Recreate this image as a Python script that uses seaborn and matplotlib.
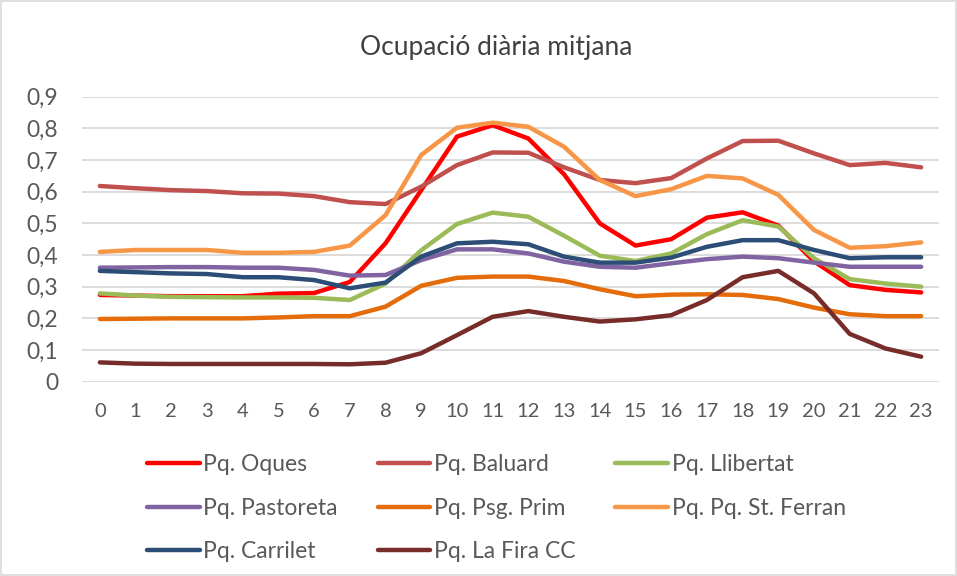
import pandas as pd
import numpy as np
import matplotlib
matplotlib.use("Agg")
import matplotlib.pyplot as plt
from matplotlib.ticker import FuncFormatter
from matplotlib.patches import Rectangle
import seaborn as sns

# ============================================================
# Data
# ============================================================

hours = list(range(24))

oques = [0.274, 0.272, 0.270, 0.270, 0.270, 0.278, 0.280, 0.315, 0.437, 0.605, 0.774, 0.810,
         0.768, 0.655, 0.500, 0.430, 0.450, 0.518, 0.535, 0.493, 0.380, 0.305, 0.290, 0.282]
baluard = [0.618, 0.611, 0.605, 0.602, 0.595, 0.594, 0.586, 0.567, 0.561, 0.616, 0.684, 0.724,
           0.723, 0.677, 0.637, 0.627, 0.643, 0.705, 0.760, 0.761, 0.721, 0.684, 0.691, 0.677]
llibertat = [0.279, 0.272, 0.268, 0.267, 0.266, 0.266, 0.265, 0.258, 0.310, 0.415, 0.498, 0.534,
             0.521, 0.461, 0.398, 0.381, 0.405, 0.466, 0.510, 0.490, 0.390, 0.324, 0.310, 0.300]
pastoreta = [0.360, 0.361, 0.362, 0.362, 0.360, 0.360, 0.353, 0.335, 0.337, 0.384, 0.418, 0.418,
             0.405, 0.379, 0.363, 0.360, 0.374, 0.387, 0.395, 0.390, 0.376, 0.363, 0.363, 0.363]
psg_prim = [0.198, 0.199, 0.200, 0.200, 0.200, 0.203, 0.207, 0.207, 0.237, 0.303, 0.328, 0.332,
            0.332, 0.318, 0.292, 0.270, 0.275, 0.276, 0.274, 0.261, 0.234, 0.213, 0.207, 0.207]
st_ferran = [0.410, 0.416, 0.416, 0.416, 0.407, 0.407, 0.410, 0.430, 0.526, 0.716, 0.802, 0.818,
             0.805, 0.742, 0.637, 0.586, 0.608, 0.650, 0.642, 0.590, 0.479, 0.423, 0.428, 0.440]
carrilet = [0.350, 0.346, 0.342, 0.340, 0.330, 0.330, 0.321, 0.295, 0.313, 0.395, 0.437, 0.442,
            0.434, 0.395, 0.376, 0.376, 0.392, 0.426, 0.447, 0.447, 0.416, 0.390, 0.393, 0.393]
la_fira = [0.061, 0.057, 0.056, 0.056, 0.056, 0.056, 0.056, 0.055, 0.060, 0.090, 0.147, 0.205,
           0.223, 0.205, 0.190, 0.197, 0.210, 0.258, 0.330, 0.350, 0.279, 0.151, 0.105, 0.079]

names = ["Pq. Oques", "Pq. Baluard", "Pq. Llibertat", "Pq. Pastoreta",
         "Pq. Psg. Prim", "Pq. Pq. St. Ferran", "Pq. Carrilet", "Pq. La Fira CC"]
series = [oques, baluard, llibertat, pastoreta, psg_prim, st_ferran, carrilet, la_fira]
colors = ["#FF0000", "#C0504D", "#9BBB59", "#8064A2",
          "#E46C0A", "#F79646", "#2C4D75", "#772C2A"]

df = pd.DataFrame({
    "hora": hours * len(names),
    "parking": [n for n in names for _ in hours],
    "ocupacio": [v for s in series for v in s],
})

# ============================================================
# Plot
# ============================================================

sns.set_theme(style="white")
plt.rcParams["font.family"] = ["Lato", "DejaVu Sans"]
text_col = "#595959"

fig = plt.figure(figsize=(9.57, 5.76), dpi=100)
ax = fig.add_axes([0.0857, 0.3373, 0.8955, 0.4948])

sns.lineplot(data=df, x="hora", y="ocupacio", hue="parking", hue_order=names,
             palette=colors, linewidth=3.2, ax=ax, legend=True)
for line in ax.lines:
    line.set_solid_capstyle("round")
    line.set_solid_joinstyle("round")

ax.set_xlim(-0.5, 23.5)
ax.set_ylim(0, 0.9)
ax.set_xticks(hours)
ax.set_yticks(np.arange(0, 0.91, 0.1))
ax.yaxis.set_major_formatter(FuncFormatter(
    lambda v, p: "0" if abs(v) < 1e-9 else f"{v:.1f}".replace(".", ",")))
ax.grid(axis="y", color="#D9D9D9", linewidth=1.3)
ax.set_axisbelow(True)
for s in ax.spines.values():
    s.set_visible(False)
ax.tick_params(axis="both", length=0, colors=text_col)
ax.tick_params(axis="x", labelsize=14.5, pad=15)
ax.tick_params(axis="y", labelsize=16.5, pad=17)
ax.set_xlabel("")
ax.set_ylabel("")

fig.text(0.519, 0.918, "Ocupació diària mitjana", ha="center", va="center",
         fontsize=19, color="#404040")

# legend, row-major order like Excel
handles, labels = ax.get_legend_handles_labels()
ax.get_legend().remove()
order = [0, 3, 6, 1, 4, 7, 2, 5]
fig.legend([handles[i] for i in order], [labels[i] for i in order],
           loc="upper left", bbox_to_anchor=(0.1536, 0.211), ncol=3, frameon=False,
           fontsize=16.5, labelcolor=text_col, handlelength=2.3, handletextpad=0.15,
           columnspacing=1.75, labelspacing=0.98, borderaxespad=0, borderpad=0)

fig.patches.append(Rectangle((0.001, 0.001), 0.998, 0.998, transform=fig.transFigure,
                             fill=False, edgecolor="#D9D9D9", linewidth=1.2))

fig.savefig("out.png", dpi=100)
